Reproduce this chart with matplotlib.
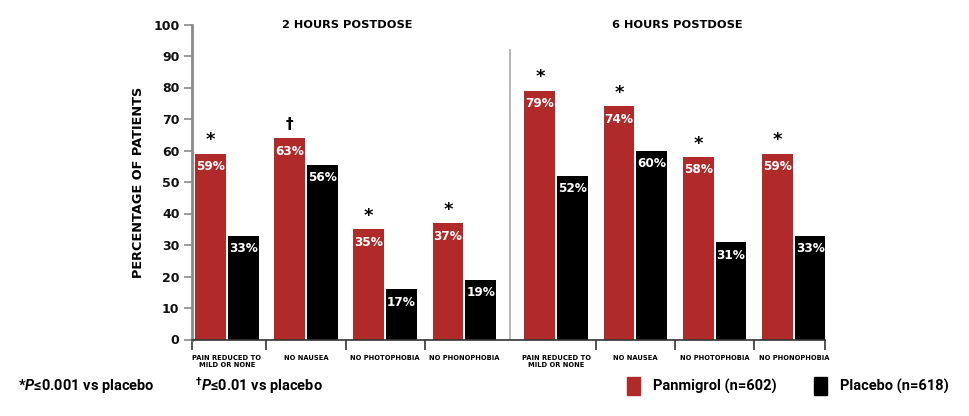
import numpy as np
import matplotlib
matplotlib.use("Agg")
from matplotlib import pyplot as plt
from matplotlib.patches import Patch

# data
categories = ["PAIN REDUCED TO\nMILD OR NONE", "NO NAUSEA", "NO PHOTOPHOBIA", "NO PHONOPHOBIA",
              "PAIN REDUCED TO\nMILD OR NONE", "NO NAUSEA", "NO PHOTOPHOBIA", "NO PHONOPHOBIA"]
panmigrol = [59, 64, 35, 37, 79, 74, 58, 59]
placebo = [33, 55.5, 16, 19, 52, 60, 31, 33]
panmigrol_labels = ["59%", "63%", "35%", "37%", "79%", "74%", "58%", "59%"]
placebo_labels = ["33%", "56%", "17%", "19%", "52%", "60%", "31%", "33%"]
markers = ["*", "\u2020", "*", "*", "*", "*", "*", "*"]
panels = ["2 HOURS POSTDOSE", "6 HOURS POSTDOSE"]

RED = "#b02a2a"
BLACK = "#000000"
GREY = "#8a8a8a"
NARROW = ["Roboto", "DejaVu Sans"]

plt.rcParams["font.family"] = ["DejaVu Sans"]
plt.rcParams["mathtext.fontset"] = "custom"
plt.rcParams["mathtext.rm"] = "Roboto:bold"
plt.rcParams["mathtext.it"] = "Roboto:italic:bold"

fig = plt.figure(figsize=(9.7, 4.16), dpi=100)
ax = fig.add_axes([192 / 970, 1 - 339.5 / 416, 633.5 / 970, 315 / 416])

centers = np.r_[np.arange(4) + 0.44, np.arange(4) + 4.60]
width = 0.39
shift = 0.207

bars_red = ax.bar(centers - shift, panmigrol, width, color=RED, zorder=2)
bars_blk = ax.bar(centers + shift, placebo, width, color=BLACK, zorder=2)

for bar, lab in zip(list(bars_red) + list(bars_blk), panmigrol_labels + placebo_labels):
    ax.annotate(lab, (bar.get_x() + bar.get_width() / 2, bar.get_height()),
                xytext=(0, -9.5), textcoords="offset points", ha="center", va="center",
                color="white", fontsize=8.7, fontweight="bold", zorder=3)

for bar, m in zip(bars_red, markers):
    size = 13 if m == "*" else 11
    off = 9.5 if m == "*" else 9.5
    ax.annotate(m, (bar.get_x() + bar.get_width() / 2, bar.get_height()),
                xytext=(0, off), textcoords="offset points", ha="center", va="center",
                color="black", fontsize=size, fontweight="bold")

ax.set_xlim(0, 8)
ax.set_ylim(0, 100)
ax.set_yticks(np.arange(0, 101, 10))
ax.tick_params(axis="y", length=6, width=1.2, color=GREY, pad=3, labelsize=9, labelcolor="#111111")
for t in ax.get_yticklabels():
    t.set_fontweight("bold")

ax.set_xticks(centers)
ax.set_xticklabels(categories, fontsize=4.9, fontweight="bold", linespacing=1.3)
ax.tick_params(axis="x", length=0, pad=11)
bounds = np.r_[0, (centers[:-1] + centers[1:]) / 2, 8]
bounds = np.delete(bounds, 4)
ax.set_xticks(bounds, minor=True)
ax.tick_params(axis="x", which="minor", length=7, width=1.2, color="#333333")

mid = (centers[3] + centers[4]) / 2
ax.axvline(mid, ymin=0, ymax=0.918, color="#aaaaaa", lw=1.2, zorder=1)

for side in ["top", "right"]:
    ax.spines[side].set_visible(False)
ax.spines["left"].set_color(GREY)
ax.spines["left"].set_linewidth(2)
ax.spines["bottom"].set_color("#333333")
ax.spines["bottom"].set_linewidth(1.2)

ax.set_ylabel("PERCENTAGE OF PATIENTS", fontsize=9.3, fontweight="bold", labelpad=6)

fig.text(347 / 970, 1 - 25 / 416, panels[0], ha="center", va="center", fontsize=8.2, fontweight="bold")
fig.text(677 / 970, 1 - 25 / 416, panels[1], ha="center", va="center", fontsize=8.2, fontweight="bold")

fig.text(18 / 970, 1 - 386 / 416, "*$P$\u22640.001 vs placebo",
         ha="left", va="center", fontsize=10.5, fontweight="bold", family=NARROW)
fig.text(195 / 970, 1 - 386 / 416, "$^{\u2020}P$\u22640.01 vs placebo",
         ha="left", va="center", fontsize=10.5, fontweight="bold", family=NARROW)

handles = [Patch(color=RED, label="Panmigrol (n=602)"), Patch(color=BLACK, label="Placebo (n=618)")]
fig.legend(handles=handles, loc="center", bbox_to_anchor=(788 / 970, 1 - 386 / 416), ncol=2,
           frameon=False, handlelength=0.85, handleheight=1.5, handletextpad=0.9, columnspacing=2.6,
           prop={"weight": "bold", "size": 10.5, "family": NARROW})

fig.savefig("out.png", dpi=100)
